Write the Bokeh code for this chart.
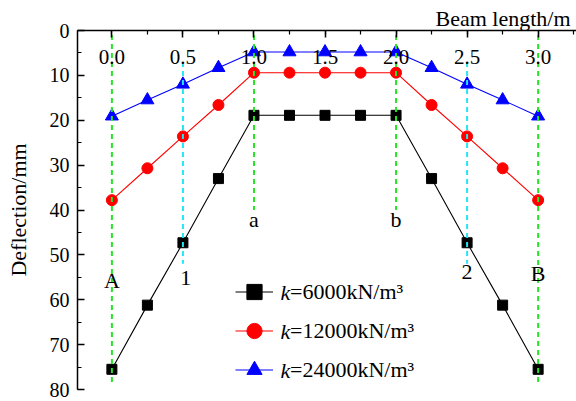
from bokeh.plotting import figure
from bokeh.models import (Range1d, SingleIntervalTicker, PrintfTickFormatter,
                          Legend, LegendItem, Label, Title, ColumnDataSource)
from bokeh.core.properties import value
from bokeh.embed import file_html
from bokeh.resources import INLINE

# Beam deflection along the beam for three foundation stiffnesses
position = [0.0, 0.25, 0.5, 0.75, 1.0, 1.25, 1.5, 1.75, 2.0, 2.25, 2.5, 2.75, 3.0]
defl_6000 = [75.5, 61.2, 47.3, 33.0, 18.9, 18.9, 18.9, 18.9, 18.9, 33.0, 47.3, 61.2, 75.5]
defl_12000 = [37.8, 30.7, 23.6, 16.6, 9.4, 9.4, 9.4, 9.4, 9.4, 16.6, 23.6, 30.7, 37.8]
defl_24000 = [19.1, 15.5, 12.0, 8.3, 4.8, 4.8, 4.8, 4.8, 4.8, 8.3, 12.0, 15.5, 19.1]
series_labels = ["=6000kN/m\u00b3", "=12000kN/m\u00b3", "=24000kN/m\u00b3"]
k_symbol = "k"

# vertical reference lines at supports / load points
ref_x = [0.0, 0.5, 1.0, 2.0, 2.5, 3.0]
ref_top = [1.0, 7.0, 1.0, 1.0, 7.0, 1.0]
ref_bottom = [79.0, 52.0, 40.0, 40.0, 52.0, 79.0]
ref_color = ["#22e622", "#22e6f0", "#22e622", "#22e622", "#22e6f0", "#22e622"]

# point names written next to the reference lines
point_names = ["A", "1", "a", "b", "2", "B"]
point_x = [0.0, 0.52, 1.0, 2.0, 2.5, 3.0]
point_y = [55.6, 55.2, 42.2, 42.2, 53.8, 54.1]

SERIF = "Liberation Serif"

X0, X1 = -0.242, 3.27
Y0, Y1 = 80, 0
W, H = 576, 401
TOP, BOTTOM, LEFT = 30, 12, 77

p = figure(width=W, height=H, x_range=Range1d(X0, X1), y_range=Range1d(Y0, Y1),
           x_axis_location="above", y_axis_location="left",
           output_backend="svg", toolbar_location=None,
           min_border_left=LEFT, min_border_top=TOP, min_border_right=0,
           min_border_bottom=BOTTOM)
p.outline_line_color = None
p.grid.visible = False
p.background_fill_color = "white"

# top axis: beam length, labels sitting just inside the frame
xa = p.xaxis[0]
xa.ticker = SingleIntervalTicker(interval=0.5, num_minor_ticks=2)
xa.formatter = PrintfTickFormatter(format="%.1f")
xa.major_tick_in = 7
xa.major_tick_out = 0
xa.minor_tick_in = 4
xa.minor_tick_out = 0
xa.major_label_standoff = -33
xa.major_label_text_font = SERIF
xa.major_label_text_font_size = "21px"
xa.major_label_text_color = "black"
xa.axis_line_width = 1.5
xa.major_tick_line_width = 1.5
xa.minor_tick_line_width = 1.2

ya = p.yaxis[0]
ya.ticker = SingleIntervalTicker(interval=10, num_minor_ticks=2)
ya.major_tick_in = 7
ya.major_tick_out = 0
ya.minor_tick_in = 4
ya.minor_tick_out = 0
ya.major_label_standoff = 8
ya.major_label_text_font = SERIF
ya.major_label_text_font_size = "20px"
ya.major_label_text_color = "black"
ya.axis_label = "Deflection/mm"
ya.axis_label_text_font = SERIF
ya.axis_label_text_font_size = "22px"
ya.axis_label_text_font_style = "normal"
ya.axis_label_text_color = "black"
ya.axis_label_standoff = 16
ya.axis_line_width = 1.5
ya.major_tick_line_width = 1.5
ya.minor_tick_line_width = 1.2

# axis title for the beam length, right-aligned above the top axis
p.add_layout(Title(text="Beam length/m", align="right", standoff=0, offset=6,
                   text_font=SERIF, text_font_size="22px",
                   text_font_style="normal", text_color="black"), "above")

src = ColumnDataSource(dict(x=position, d1=defl_6000, d2=defl_12000, d3=defl_24000))

series = [("d1", "black", "square", 10), ("d2", "red", "circle", 11),
          ("d3", "blue", "triangle", 13)]
items = []
for (col, color, marker, size), lab in zip(series, series_labels):
    lr = p.line("x", col, source=src, line_color=color, line_width=1.1)
    sr = p.scatter("x", col, source=src, marker=marker, size=size,
                   fill_color=color, line_color=color)
    items.append(LegendItem(label=lab, renderers=[lr, sr]))

# reference lines drawn over the curves
rsrc = ColumnDataSource(dict(x=ref_x, y0=ref_top, y1=ref_bottom, c=ref_color))
p.segment(x0="x", y0="y0", x1="x", y1="y1", source=rsrc, line_color="c",
          line_width=2, line_dash="5 4")

nsrc = ColumnDataSource(dict(x=point_x, y=point_y, t=point_names))
p.text(x="x", y="y", text="t", source=nsrc, text_align="center",
       text_baseline="alphabetic", text_font=value(SERIF),
       text_font_size="22px", text_color="black")

# legend
leg_left_px, leg_top_px = 235, 272
row_h, glyph_w, standoff = 39, 38, 17
frame_h = H - TOP - BOTTOM
legend = Legend(items=items, location=(leg_left_px - LEFT, frame_h - (leg_top_px - TOP) - 3 * row_h),
                glyph_width=glyph_w, glyph_height=row_h, label_height=row_h,
                spacing=0, padding=0, margin=0, label_standoff=standoff,
                border_line_color=None, background_fill_alpha=0,
                label_text_font=SERIF, label_text_font_size="22px",
                label_text_color="black")
p.add_layout(legend)

# italic k in front of each legend entry
ppu_x = (W - LEFT) / (X1 - X0)
ppu_y = frame_h / (Y0 - Y1)
k_x = X0 + (leg_left_px + glyph_w + 7 - LEFT) / ppu_x
for i in range(len(series_labels)):
    cy = leg_top_px + row_h * (i + 0.5)
    p.add_layout(Label(x=k_x, y=(cy - TOP) / ppu_y, text=k_symbol,
                       text_align="left", text_baseline="middle",
                       text_font=SERIF, text_font_style="italic",
                       text_font_size="22px", text_color="black"))

open("out.html", "w").write(file_html(p, INLINE))
